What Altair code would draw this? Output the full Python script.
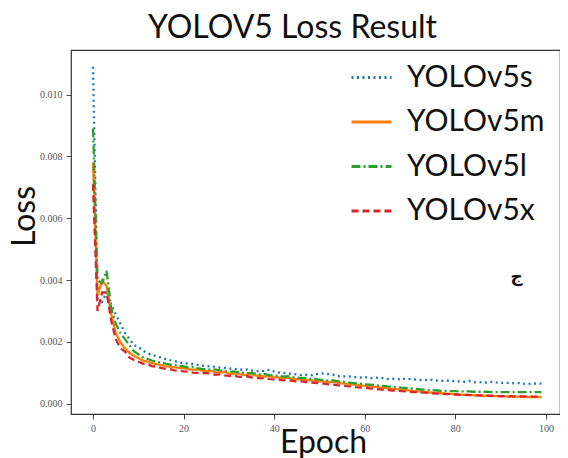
import altair as alt
import pandas as pd

models = ["YOLOv5s", "YOLOv5m", "YOLOv5l", "YOLOv5x"]
colors = ["#1f77b4", "#ff7f0e", "#2ca02c", "#d62728"]
dashes = [[2, 3.5], [1, 0], [9, 3, 2, 3], [7, 4]]

loss_s = [0.0109, 0.0034, 0.0033, 0.0036, 0.0032, 0.0029, 0.0026, 0.0023, 0.0021, 0.0019,
          0.00184, 0.00172, 0.00164, 0.00158, 0.00153, 0.00150, 0.00145, 0.00141, 0.00138, 0.00134,
          0.00132, 0.00130, 0.00128, 0.00126, 0.00124, 0.00121, 0.00122, 0.00119, 0.00117, 0.00116,
          0.00114, 0.00113, 0.00112, 0.00110, 0.00111, 0.00108, 0.00106, 0.00105, 0.00107, 0.00110,
          0.00104, 0.00101, 0.00100, 0.00098, 0.00097, 0.00095, 0.00093, 0.00094, 0.00092, 0.00095,
          0.00097, 0.00098, 0.00096, 0.00094, 0.00090, 0.00088, 0.00089, 0.00088, 0.00086, 0.00085,
          0.00087, 0.00083, 0.00082, 0.00085, 0.00083, 0.00080, 0.00081, 0.00080, 0.00078, 0.00082,
          0.00080, 0.00079, 0.00077, 0.00076, 0.00078, 0.00077, 0.00075, 0.00074, 0.00076, 0.00073,
          0.00073, 0.00072, 0.00071, 0.00074, 0.00070, 0.00069, 0.00070, 0.00068, 0.00071, 0.00069,
          0.00068, 0.00067, 0.00068, 0.00066, 0.00067, 0.00065, 0.00064, 0.00066, 0.00065, 0.00065]

loss_m = [0.0078, 0.0035, 0.0040, 0.0038, 0.0029, 0.0023, 0.0020, 0.0018, 0.00165, 0.00155,
          0.00148, 0.00140, 0.00136, 0.00132, 0.00128, 0.00125, 0.00121, 0.00120, 0.00118, 0.00116,
          0.00115, 0.00112, 0.00110, 0.00111, 0.00107, 0.00105, 0.00106, 0.00102, 0.00101, 0.00103,
          0.00098, 0.00097, 0.00098, 0.00094, 0.00093, 0.00095, 0.00091, 0.00090, 0.00088, 0.00089,
          0.00086, 0.00085, 0.00083, 0.00084, 0.00081, 0.00079, 0.00080, 0.00077, 0.00076, 0.00075,
          0.00073, 0.00072, 0.00070, 0.00071, 0.00068, 0.00066, 0.00065, 0.00063, 0.00062, 0.00060,
          0.00058, 0.00057, 0.00055, 0.00054, 0.00052, 0.00050, 0.00049, 0.00047, 0.00046, 0.00044,
          0.00043, 0.00041, 0.00040, 0.00039, 0.00037, 0.00036, 0.00035, 0.00034, 0.00033, 0.00032,
          0.00031, 0.00030, 0.00029, 0.00029, 0.00028, 0.00027, 0.00026, 0.00026, 0.00025, 0.00025,
          0.00024, 0.00024, 0.00023, 0.00023, 0.00023, 0.00022, 0.00022, 0.00022, 0.00022, 0.00022]

loss_l = [0.0089, 0.0040, 0.0039, 0.0043, 0.0031, 0.0026, 0.0023, 0.0021, 0.0019, 0.0017,
          0.00160, 0.00150, 0.00145, 0.00140, 0.00136, 0.00132, 0.00130, 0.00127, 0.00125, 0.00123,
          0.00121, 0.00118, 0.00119, 0.00115, 0.00113, 0.00112, 0.00110, 0.00111, 0.00108, 0.00106,
          0.00104, 0.00105, 0.00102, 0.00100, 0.00099, 0.00100, 0.00097, 0.00095, 0.00096, 0.00093,
          0.00091, 0.00090, 0.00088, 0.00089, 0.00086, 0.00085, 0.00083, 0.00084, 0.00081, 0.00080,
          0.00078, 0.00077, 0.00075, 0.00076, 0.00073, 0.00071, 0.00070, 0.00068, 0.00066, 0.00065,
          0.00063, 0.00062, 0.00061, 0.00059, 0.00058, 0.00056, 0.00055, 0.00054, 0.00052, 0.00051,
          0.00050, 0.00049, 0.00047, 0.00046, 0.00045, 0.00044, 0.00043, 0.00042, 0.00042, 0.00041,
          0.00041, 0.00040, 0.00040, 0.00040, 0.00039, 0.00039, 0.00039, 0.00039, 0.00038, 0.00038,
          0.00038, 0.00038, 0.00038, 0.00038, 0.00038, 0.00038, 0.00038, 0.00038, 0.00038, 0.00038]

loss_x = [0.0071, 0.0030, 0.0036, 0.0036, 0.0027, 0.0021, 0.0018, 0.0017, 0.00150, 0.00142,
          0.00136, 0.00130, 0.00128, 0.00122, 0.00120, 0.00116, 0.00113, 0.00112, 0.00108, 0.00107,
          0.00105, 0.00104, 0.00101, 0.00100, 0.00098, 0.00100, 0.00096, 0.00094, 0.00095, 0.00092,
          0.00090, 0.00091, 0.00088, 0.00087, 0.00089, 0.00085, 0.00084, 0.00082, 0.00083, 0.00080,
          0.00079, 0.00078, 0.00076, 0.00077, 0.00074, 0.00072, 0.00073, 0.00070, 0.00069, 0.00068,
          0.00066, 0.00065, 0.00063, 0.00062, 0.00060, 0.00059, 0.00057, 0.00056, 0.00054, 0.00053,
          0.00052, 0.00050, 0.00049, 0.00047, 0.00046, 0.00045, 0.00043, 0.00042, 0.00041, 0.00040,
          0.00039, 0.00038, 0.00037, 0.00036, 0.00035, 0.00034, 0.00033, 0.00032, 0.00031, 0.00031,
          0.00030, 0.00029, 0.00029, 0.00028, 0.00028, 0.00027, 0.00027, 0.00026, 0.00026, 0.00026,
          0.00025, 0.00025, 0.00025, 0.00024, 0.00024, 0.00024, 0.00024, 0.00023, 0.00023, 0.00023]

x_ticks = [0, 20, 40, 60, 80, 100]
y_ticks = [0.000, 0.002, 0.004, 0.006, 0.008, 0.010]

note_text = ["ج"]
note_epoch = [93.5]
note_loss = [0.0041]

rows = []
for name, series in zip(models, [loss_s, loss_m, loss_l, loss_x]):
    for ep, v in enumerate(series):
        rows.append({"epoch": ep, "loss": v, "model": name})
df = pd.DataFrame(rows)

xscale = alt.Scale(domain=[-4.86, 103.1], nice=False, zero=False)
yscale = alt.Scale(domain=[-0.00033, 0.01144], nice=False, zero=False)

leg = alt.Legend(title=None, orient="none", legendX=279, legendY=6)

lines = alt.Chart(df).mark_line(strokeWidth=2.3).encode(
    x=alt.X("epoch:Q", scale=xscale,
            axis=alt.Axis(values=x_ticks, title="Epoch", format="d", grid=False,
                          titleX=252, titleY=38, titleAlign="center",
                          titleBaseline="alphabetic")),
    y=alt.Y("loss:Q", scale=yscale,
            axis=alt.Axis(values=y_ticks, title="Loss", format=".3f", grid=False,
                          titleX=-37, titleY=166, titleAngle=270, titleAlign="center",
                          titleBaseline="alphabetic")),
    color=alt.Color("model:N", sort=models,
                    scale=alt.Scale(domain=models, range=colors), legend=leg),
    strokeDash=alt.StrokeDash("model:N", sort=models,
                              scale=alt.Scale(domain=models, range=dashes), legend=leg),
    detail="model:N",
)

note_df = pd.DataFrame({"t": note_text, "epoch": note_epoch, "loss": note_loss})
note = alt.Chart(note_df).mark_text(font="DejaVu Sans", fontSize=17, fontWeight="bold",
                                    color="#111").encode(
    x=alt.X("epoch:Q", scale=xscale),
    y=alt.Y("loss:Q", scale=yscale),
    text="t:N",
)

chart = alt.layer(lines, note).properties(
    width=489, height=364,
    title=alt.TitleParams("YOLOV5 Loss Result", font="Lato", fontSize=32, fontWeight="normal",
                          color="#111", anchor="middle", dx=-23, dy=30, offset=10,
                          baseline="alphabetic"),
    autosize=alt.AutoSizeParams(type="none"),
    padding={"left": 63, "top": 42, "right": 0, "bottom": 44},
).configure_view(stroke="#333", strokeWidth=1.2).configure_axis(
    domain=False, tickColor="#444", tickSize=5, labelFont="Liberation Serif",
    labelFontSize=10, labelColor="#555", labelPadding=4,
    titleFont="Lato", titleFontSize=32, titleFontWeight="normal", titleColor="#111",
).configure_legend(
    symbolType="stroke", symbolSize=1600, symbolStrokeWidth=3,
    labelFont="Lato", labelFontSize=30, labelColor="#111", labelOffset=14,
    rowPadding=7.5, padding=0,
)

chart.save("out.html", embed_options={"renderer": "svg", "actions": False})
